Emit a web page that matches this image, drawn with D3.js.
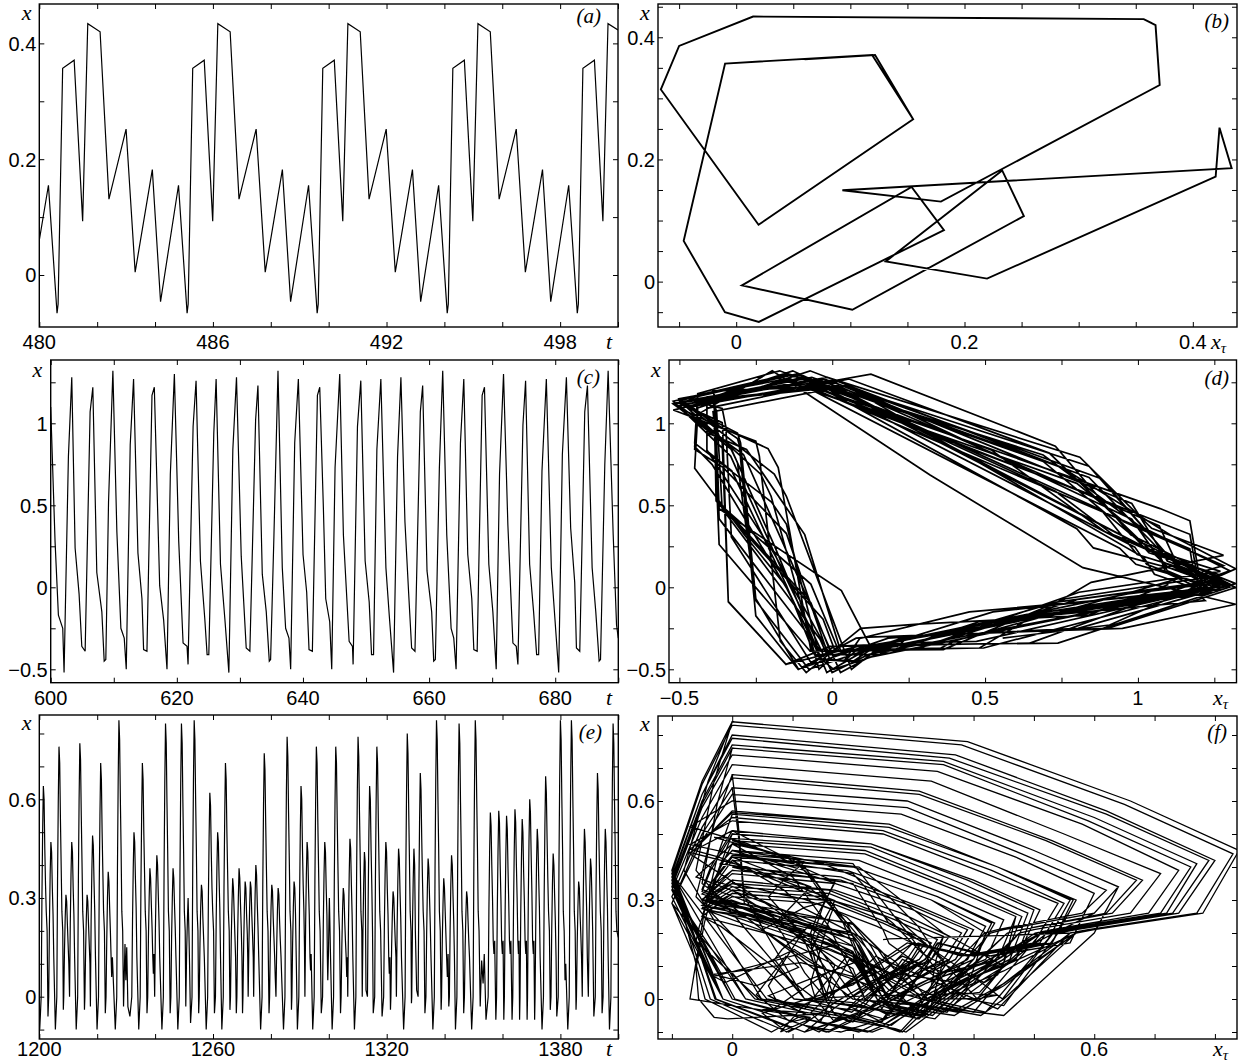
<!DOCTYPE html>
<html><head><meta charset="utf-8">
<script src="https://cdn.jsdelivr.net/npm/d3@7"></script>
<style>body{margin:0;background:#fff}svg{display:block}</style>
</head><body>
<svg id="fig" width="1245" height="1063"></svg>
<script>
// ---------- data: time series ([t, x] vertices) ----------
const aData = [[480.0,0.06],
 [480.316,0.155],[480.613,-0.066],[480.650,-0.050],[480.807,0.357],[481.205,0.371],[481.498,0.093],[481.675,0.434],[482.101,0.420],[482.407,0.131],[482.999,0.252],[483.313,0.005],[483.906,0.182],[484.190,-0.046],
 [484.811,0.155],[485.108,-0.066],[485.145,-0.050],[485.302,0.357],[485.700,0.371],[485.993,0.093],[486.170,0.434],[486.596,0.420],[486.902,0.131],[487.494,0.252],[487.808,0.005],[488.401,0.182],[488.685,-0.046],
 [489.306,0.155],[489.603,-0.066],[489.640,-0.050],[489.797,0.357],[490.195,0.371],[490.488,0.093],[490.665,0.434],[491.091,0.420],[491.397,0.131],[491.989,0.252],[492.303,0.005],[492.896,0.182],[493.180,-0.046],
 [493.801,0.155],[494.098,-0.066],[494.135,-0.050],[494.292,0.357],[494.690,0.371],[494.983,0.093],[495.160,0.434],[495.586,0.420],[495.892,0.131],[496.484,0.252],[496.798,0.005],[497.391,0.182],[497.675,-0.046],
 [498.296,0.155],[498.593,-0.066],[498.630,-0.050],[498.787,0.357],[499.185,0.371],[499.478,0.093],[499.655,0.434],[500.0,0.423]];

const cData = [[600.00,1.10],[600.69,0.28],[601.22,-0.17],[601.91,-0.25],[602.12,-0.52],[602.81,0.80],[603.34,1.28],[603.87,0.24],[604.50,-0.04],[604.93,-0.36],[605.46,-0.39],[606.25,1.07],[606.68,1.22],[607.31,0.09],[608.11,-0.15],[608.48,-0.45],[608.74,-0.44],[609.17,0.52],[609.86,1.32],[610.49,0.34],[611.13,-0.25],[611.66,-0.31],[611.98,-0.50],[612.61,0.87],[613.14,1.27],[613.83,0.21],[614.47,-0.07],[614.73,-0.38],[615.26,-0.39],[616.06,1.17],[616.43,1.22],[617.28,0.01],[617.91,-0.20],[618.44,-0.50],[618.97,0.69],[619.61,1.30],[620.30,0.28],[620.99,-0.34],[621.62,-0.36],[621.78,-0.47],[622.58,0.98],[623.05,1.26],[623.74,0.16],[624.43,-0.19],[624.80,-0.41],[625.07,-0.41],[625.86,0.94],[626.23,1.27],[626.92,0.14],[627.61,-0.19],[628.25,-0.52],[628.88,0.84],[629.46,1.28],[630.21,0.19],[631.00,-0.37],[631.58,-0.39],[632.49,1.02],[632.86,1.23],[633.55,0.08],[634.18,-0.15],[634.66,-0.45],[634.87,-0.44],[635.40,0.32],[636.04,1.32],[636.72,0.12],[637.25,-0.25],[637.78,-0.31],[638.05,-0.50],[638.69,0.88],[639.27,1.27],[640.01,0.20],[640.59,-0.03],[640.96,-0.38],[641.49,-0.39],[642.29,1.17],[642.66,1.22],[643.24,0.48],[643.61,-0.07],[644.24,-0.21],[644.56,-0.50],[645.09,0.73],[645.83,1.30],[646.41,0.32],[647.32,-0.33],[647.85,-0.36],[647.95,-0.47],[648.64,0.98],[649.17,1.26],[649.86,0.16],[650.50,-0.09],[650.87,-0.41],[651.19,-0.41],[651.72,0.84],[652.35,1.27],[653.15,0.12],[653.68,-0.17],[654.37,-0.52],[655.00,0.80],[655.53,1.28],[656.17,0.40],[656.75,-0.03],[657.23,-0.37],[657.76,-0.39],[658.61,1.07],[658.98,1.23],[659.67,0.10],[660.41,-0.15],[660.73,-0.45],[660.99,-0.44],[661.63,0.73],[662.16,1.32],[662.80,0.32],[663.49,-0.25],[663.91,-0.31],[664.28,-0.50],[664.97,0.88],[665.50,1.27],[666.13,0.20],[666.77,-0.07],[667.09,-0.38],[667.62,-0.39],[668.41,1.17],[668.78,1.22],[669.47,0.14],[670.11,-0.15],[670.64,-0.50],[671.17,0.69],[671.80,1.30],[672.49,0.38],[673.29,-0.34],[673.82,-0.36],[674.08,-0.47],[674.88,0.99],[675.30,1.26],[675.94,0.14],[676.57,-0.15],[677.05,-0.41],[677.37,-0.41],[677.90,0.71],[678.59,1.27],[679.38,0.12],[679.91,-0.17],[680.55,-0.52],[681.13,0.81],[681.77,1.28],[682.45,0.36],[683.09,0.03],[683.36,-0.37],[683.89,-0.39],[684.68,1.07],[685.11,1.23],[685.85,0.12],[686.43,-0.15],[686.96,-0.45],[687.18,-0.44],[687.86,0.75],[688.39,1.32],[689.19,0.32],[689.72,-0.23],[690.00,-0.31]];

const eData = [[1200.0,-0.06],
 [1200.15,-0.10],[1200.65,0.00],[1200.9,0.29],[1201.15,0.50],[1201.4,0.64],[1201.65,0.60],[1201.9,0.45],[1202.15,0.34],[1202.4,0.26],[1202.7,0.20],
 [1203.0,-0.06],[1203.25,0.00],[1203.5,0.22],[1203.75,0.37],[1204.0,0.47],[1204.25,0.44],[1204.5,0.33],[1204.75,0.25],[1205.0,0.12],
 [1205.55,-0.10],[1206.05,0.00],[1206.3,0.35],[1206.55,0.59],[1206.8,0.76],[1207.05,0.71],[1207.3,0.54],[1207.55,0.40],[1207.8,0.26],[1208.1,0.20],
 [1208.3,-0.04],[1208.45,0.00],[1208.7,0.14],[1208.95,0.24],[1209.2,0.31],[1209.45,0.29],[1209.7,0.22],[1209.95,0.16],[1210.2,0.10],
 [1210.45,0.00],[1210.7,0.22],[1210.95,0.37],[1211.2,0.47],[1211.45,0.44],[1211.7,0.33],[1211.95,0.25],[1212.2,0.12],
 [1212.75,-0.10],[1213.25,0.00],[1213.5,0.35],[1213.75,0.60],[1214.0,0.77],[1214.25,0.72],[1214.5,0.55],[1214.75,0.41],[1215.0,0.26],[1215.3,0.20],
 [1215.6,-0.04],[1215.75,0.00],[1216.0,0.14],[1216.25,0.24],[1216.5,0.31],[1216.75,0.29],[1217.0,0.22],[1217.25,0.16],[1217.5,0.10],
 [1217.65,-0.03],[1217.9,0.23],[1218.15,0.38],[1218.4,0.49],[1218.65,0.46],[1218.9,0.35],[1219.15,0.26],[1219.4,0.12],
 [1219.95,-0.10],[1220.45,0.00],[1220.7,0.33],[1220.95,0.55],[1221.2,0.71],[1221.45,0.66],[1221.7,0.50],[1221.95,0.38],[1222.2,0.26],[1222.5,0.20],
 [1222.8,-0.05],[1223.05,0.00],[1223.3,0.17],[1223.55,0.30],[1223.8,0.38],[1224.05,0.35],[1224.3,0.27],[1224.55,0.20],[1224.8,0.12],[1225.0,0.06],[1225.25,0.12],
 [1226.25,-0.10],[1226.75,0.00],[1227.0,0.39],[1227.25,0.66],[1227.5,0.84],[1227.75,0.78],[1228.0,0.60],[1228.25,0.45],[1228.5,0.26],[1228.8,0.20],
 [1229.1,-0.03],[1229.6,0.16],[1229.9,0.05],[1230.2,0.15],[1230.6,-0.03],
 [1231.3,-0.06],[1231.95,0.00],[1232.2,0.23],[1232.45,0.39],[1232.7,0.50],[1232.95,0.47],[1233.2,0.36],[1233.45,0.27],[1233.7,0.12],
 [1234.35,-0.10],[1234.85,0.00],[1235.1,0.33],[1235.35,0.55],[1235.6,0.71],[1235.85,0.66],[1236.1,0.50],[1236.35,0.38],[1236.6,0.26],[1236.9,0.20],
 [1237.2,-0.05],[1237.45,0.00],[1237.7,0.18],[1237.95,0.30],[1238.2,0.39],[1238.45,0.36],[1238.7,0.28],[1238.95,0.21],[1239.2,0.12],[1239.4,0.07],[1239.6,0.13],
 [1239.85,0.00],[1240.1,0.20],[1240.35,0.34],[1240.6,0.43],[1240.85,0.40],[1241.1,0.31],[1241.35,0.23],[1241.6,0.12],
 [1242.35,-0.10],[1242.85,0.00],[1243.1,0.38],[1243.35,0.65],[1243.6,0.83],[1243.85,0.77],[1244.1,0.59],[1244.35,0.44],[1244.6,0.26],[1244.9,0.20],
 [1245.2,-0.05],[1245.45,0.00],[1245.7,0.18],[1245.95,0.30],[1246.2,0.39],[1246.45,0.36],[1246.7,0.28],[1246.95,0.21],[1247.2,0.12],
 [1247.85,-0.10],[1248.35,0.00],[1248.6,0.38],[1248.85,0.65],[1249.1,0.83],[1249.35,0.77],[1249.6,0.59],[1249.85,0.44],[1250.1,0.26],[1250.4,0.20],
 [1250.6,-0.03],[1250.9,0.14],[1251.15,0.23],[1251.4,0.30],[1251.65,0.21],[1251.9,0.10],
 [1252.25,-0.08],[1252.75,0.00],[1253.0,0.39],[1253.25,0.66],[1253.5,0.84],[1253.75,0.78],[1254.0,0.60],[1254.25,0.45],[1254.5,0.26],[1254.8,0.20],
 [1255.05,-0.05],[1255.25,0.00],[1255.5,0.16],[1255.75,0.27],[1256.0,0.34],[1256.25,0.32],[1256.5,0.24],[1256.75,0.18],[1257.0,0.12],
 [1257.65,-0.10],[1258.15,0.00],[1258.4,0.29],[1258.65,0.48],[1258.9,0.62],[1259.15,0.58],[1259.4,0.44],[1259.65,0.33],[1259.9,0.26],[1260.2,0.20],
 [1260.5,-0.05],[1260.85,0.00],[1261.1,0.23],[1261.35,0.39],[1261.6,0.50],[1261.85,0.47],[1262.1,0.36],[1262.35,0.27],[1262.6,0.12],
 [1263.05,-0.10],[1263.55,0.00],[1263.8,0.33],[1264.05,0.55],[1264.3,0.71],[1264.55,0.66],[1264.8,0.50],[1265.05,0.38],[1265.3,0.26],[1265.6,0.20],
 [1265.85,-0.04],[1266.05,0.00],[1266.3,0.17],[1266.55,0.28],[1266.8,0.36],[1267.05,0.33],[1267.3,0.26],[1267.55,0.19],[1267.8,0.12],
 [1268.05,-0.05],[1268.25,0.00],[1268.5,0.18],[1268.75,0.30],[1269.0,0.39],[1269.25,0.36],[1269.5,0.28],[1269.75,0.21],[1270.0,0.12],
 [1270.2,-0.05],[1270.35,0.00],[1270.6,0.16],[1270.85,0.27],[1271.1,0.35],[1271.35,0.33],[1271.6,0.25],[1271.85,0.19],[1272.0,0.12],
 [1272.15,0.00],[1272.4,0.16],[1272.65,0.27],[1272.9,0.35],[1273.15,0.33],[1273.4,0.25],[1273.65,0.19],[1273.9,0.12],
 [1274.05,0.00],[1274.3,0.18],[1274.55,0.31],[1274.8,0.40],[1275.05,0.37],[1275.3,0.28],[1275.55,0.21],[1275.8,0.12],
 [1276.45,-0.10],[1276.95,0.00],[1277.2,0.34],[1277.45,0.58],[1277.7,0.74],[1277.95,0.69],[1278.2,0.53],[1278.45,0.39],[1278.7,0.26],[1279.0,0.20],
 [1279.35,-0.05],[1279.55,0.00],[1279.8,0.16],[1280.05,0.27],[1280.3,0.34],[1280.55,0.32],[1280.8,0.24],[1281.05,0.18],[1281.3,0.12],[1281.5,0.06],
 [1281.75,0.00],[1282.0,0.15],[1282.25,0.26],[1282.5,0.33],[1282.75,0.31],[1283.0,0.23],[1283.25,0.17],[1283.5,0.12],[1283.8,0.04],
 [1284.35,-0.10],[1284.85,0.00],[1285.1,0.36],[1285.35,0.62],[1285.6,0.79],[1285.85,0.73],[1286.1,0.56],[1286.35,0.42],[1286.6,0.26],[1286.9,0.20],
 [1287.1,-0.04],[1287.25,0.00],[1287.5,0.16],[1287.75,0.27],[1288.0,0.35],[1288.25,0.33],[1288.5,0.25],[1288.75,0.12],
 [1289.15,-0.10],[1289.65,0.00],[1289.9,0.29],[1290.15,0.50],[1290.4,0.64],[1290.65,0.60],[1290.9,0.45],[1291.15,0.34],[1291.4,0.26],[1291.6,0.15],
 [1291.75,0.00],[1292.0,0.22],[1292.25,0.37],[1292.5,0.47],[1292.75,0.44],[1293.0,0.33],[1293.25,0.25],[1293.5,0.12],[1293.7,0.08],[1293.9,0.13],
 [1294.45,-0.10],[1294.95,0.00],[1295.2,0.35],[1295.45,0.59],[1295.7,0.76],[1295.95,0.71],[1296.2,0.54],[1296.45,0.40],[1296.7,0.26],[1297.0,0.20],
 [1297.4,-0.05],[1297.85,0.00],[1298.1,0.22],[1298.35,0.37],[1298.6,0.47],[1298.85,0.44],[1299.1,0.33],[1299.35,0.25],[1299.5,0.12],
 [1299.65,0.05],[1299.9,0.14],[1300.05,0.23],[1300.2,0.30],[1300.4,0.21],[1300.6,0.12],
 [1301.15,-0.10],[1301.65,0.00],[1301.9,0.35],[1302.15,0.59],[1302.4,0.76],[1302.65,0.71],[1302.9,0.54],[1303.15,0.40],[1303.4,0.26],[1303.7,0.20],
 [1304.05,-0.05],[1304.25,0.00],[1304.5,0.15],[1304.75,0.26],[1305.0,0.33],[1305.25,0.31],[1305.5,0.23],[1305.75,0.17],[1306.0,0.12],[1306.2,0.06],[1306.4,0.12],
 [1306.55,0.00],[1306.8,0.22],[1307.05,0.37],[1307.3,0.48],[1307.55,0.45],[1307.8,0.34],[1308.05,0.25],[1308.3,0.12],
 [1308.85,-0.10],[1309.35,0.00],[1309.6,0.36],[1309.85,0.62],[1310.1,0.79],[1310.35,0.73],[1310.6,0.56],[1310.85,0.42],[1311.1,0.26],[1311.4,0.20],
 [1311.55,0.00],[1311.8,0.20],[1312.05,0.34],[1312.3,0.44],[1312.55,0.41],[1312.85,0.02],
 [1313.35,0.00],[1313.6,0.29],[1313.85,0.50],[1314.1,0.64],[1314.35,0.60],[1314.6,0.45],[1314.85,0.34],[1315.1,0.20],[1315.35,-0.05],
 [1315.85,0.00],[1316.1,0.35],[1316.35,0.59],[1316.6,0.76],[1316.85,0.71],[1317.1,0.54],[1317.35,0.40],[1317.6,0.26],[1317.9,0.20],
 [1318.4,-0.06],[1318.95,0.00],[1319.2,0.22],[1319.45,0.37],[1319.7,0.47],[1319.95,0.44],[1320.2,0.33],[1320.45,0.25],[1320.7,0.12],[1320.9,0.07],[1321.1,0.12],
 [1321.3,-0.04],[1321.45,0.00],[1321.7,0.15],[1321.95,0.25],[1322.2,0.32],[1322.45,0.30],[1322.7,0.23],[1322.95,0.17],[1323.2,0.12],
 [1323.35,0.00],[1323.6,0.21],[1323.85,0.35],[1324.1,0.45],[1324.35,0.42],[1324.6,0.32],[1324.85,0.24],[1325.1,0.12],
 [1325.85,-0.10],[1326.35,0.00],[1326.6,0.37],[1326.85,0.62],[1327.1,0.80],[1327.35,0.74],[1327.6,0.57],[1327.85,0.42],[1328.1,0.26],[1328.4,0.20],
 [1328.55,-0.02],[1328.65,0.00],[1328.9,0.21],[1329.15,0.35],[1329.4,0.45],[1329.65,0.40],[1329.9,0.20],[1330.35,0.02],
 [1330.85,0.00],[1331.1,0.31],[1331.35,0.53],[1331.6,0.68],[1331.85,0.63],[1332.1,0.48],[1332.35,0.36],[1332.6,0.26],[1332.9,0.20],
 [1333.2,-0.05],[1333.55,0.00],[1333.8,0.19],[1334.05,0.33],[1334.3,0.42],[1334.55,0.39],[1334.8,0.30],[1335.05,0.22],[1335.3,0.12],
 [1335.95,-0.10],[1336.45,0.00],[1336.7,0.39],[1336.95,0.66],[1337.2,0.84],[1337.45,0.78],[1337.7,0.60],[1337.95,0.45],[1338.2,0.26],[1338.5,0.20],
 [1338.8,-0.04],[1338.95,0.00],[1339.2,0.17],[1339.45,0.28],[1339.7,0.36],[1339.95,0.33],[1340.2,0.26],[1340.45,0.19],[1340.7,0.12],[1340.95,0.06],[1341.2,0.13],[1341.45,-0.03],
 [1341.65,0.00],[1341.9,0.20],[1342.15,0.34],[1342.4,0.43],[1342.65,0.40],[1342.9,0.31],[1343.15,0.23],[1343.4,0.12],
 [1343.75,-0.10],[1344.25,0.00],[1344.5,0.38],[1344.75,0.65],[1345.0,0.83],[1345.25,0.77],[1345.5,0.59],[1345.75,0.44],[1346.0,0.26],[1346.3,0.20],
 [1346.6,-0.05],[1346.85,0.00],[1347.1,0.15],[1347.35,0.25],[1347.6,0.32],[1347.85,0.30],[1348.1,0.23],[1348.35,0.17],[1348.6,0.12],
 [1349.35,-0.10],[1349.85,0.00],[1350.1,0.39],[1350.35,0.66],[1350.6,0.84],[1350.85,0.78],[1351.1,0.60],[1351.35,0.45],[1351.6,0.26],[1351.9,0.20],
 [1352.3,-0.03],[1352.8,0.11],[1353.3,0.04],[1353.7,0.13],[1354.3,-0.07],
 [1355.05,0.00],[1355.3,0.26],[1355.55,0.44],[1355.8,0.56],[1356.05,0.52],[1356.3,0.40],[1356.55,0.30],[1356.8,0.17],[1357.05,0.13],[1357.3,0.17],[1357.7,-0.07],
 [1357.95,0.00],[1358.2,0.26],[1358.45,0.44],[1358.7,0.565],[1358.95,0.53],[1359.2,0.40],[1359.45,0.30],[1359.7,0.17],[1359.95,0.13],[1360.2,0.17],[1360.45,-0.07],
 [1360.65,0.00],[1360.9,0.25],[1361.15,0.43],[1361.4,0.55],[1361.65,0.51],[1361.9,0.39],[1362.15,0.29],[1362.4,0.17],[1362.65,0.13],[1362.9,0.17],[1363.3,-0.07],
 [1363.55,0.00],[1363.8,0.26],[1364.05,0.44],[1364.3,0.57],[1364.55,0.53],[1364.8,0.40],[1365.05,0.30],[1365.3,0.17],[1365.5,0.13],[1365.7,0.17],[1365.9,-0.07],
 [1366.05,0.00],[1366.3,0.25],[1366.55,0.42],[1366.8,0.54],[1367.05,0.50],[1367.3,0.38],[1367.55,0.29],[1367.8,0.17],[1368.05,0.13],[1368.25,0.17],[1368.5,-0.07],
 [1368.65,0.00],[1368.9,0.28],[1369.15,0.47],[1369.4,0.60],[1369.65,0.56],[1369.9,0.43],[1370.15,0.32],[1370.4,0.17],[1370.65,0.13],[1370.85,0.17],[1371.1,-0.07],
 [1371.25,0.00],[1371.5,0.23],[1371.75,0.40],[1372.0,0.51],[1372.25,0.47],[1372.5,0.36],[1372.75,0.27],[1373.0,0.12],
 [1373.65,-0.10],[1374.15,0.00],[1374.4,0.31],[1374.65,0.52],[1374.9,0.67],[1375.15,0.62],[1375.4,0.48],[1375.65,0.36],[1375.9,0.26],[1376.2,0.20],
 [1376.5,-0.04],[1376.75,0.00],[1377.0,0.20],[1377.25,0.34],[1377.5,0.435],[1377.75,0.40],[1378.0,0.31],[1378.25,0.23],[1378.5,0.12],[1378.75,-0.06],
 [1379.25,0.00],[1379.5,0.39],[1379.75,0.66],[1380.0,0.84],[1380.25,0.78],[1380.5,0.60],[1380.75,0.45],[1381.0,0.26],[1381.3,0.20],[1381.6,0.05],[1381.85,0.10],[1382.55,-0.10],
 [1383.05,0.00],[1383.3,0.39],[1383.55,0.66],[1383.8,0.84],[1384.05,0.78],[1384.3,0.60],[1384.55,0.45],[1384.8,0.26],[1385.1,0.20],
 [1385.4,-0.04],[1385.55,0.00],[1385.8,0.16],[1386.05,0.27],[1386.3,0.35],[1386.55,0.33],[1386.8,0.25],[1387.05,0.19],[1387.3,0.12],
 [1387.55,0.00],[1387.8,0.23],[1388.05,0.40],[1388.3,0.51],[1388.55,0.47],[1388.8,0.36],[1389.05,0.27],[1389.3,0.12],
 [1389.65,0.00],[1389.9,0.19],[1390.15,0.33],[1390.4,0.42],[1390.65,0.39],[1390.9,0.30],[1391.15,0.20],[1391.55,-0.06],
 [1392.05,0.00],[1392.3,0.31],[1392.55,0.53],[1392.8,0.68],[1393.05,0.63],[1393.3,0.48],[1393.55,0.36],[1393.8,0.26],[1394.1,0.20],
 [1394.4,-0.05],[1394.75,0.00],[1395.0,0.23],[1395.25,0.40],[1395.5,0.51],[1395.75,0.47],[1396.0,0.36],[1396.25,0.27],[1396.5,0.12],
 [1396.95,-0.10],[1397.45,0.00],[1397.7,0.38],[1397.95,0.65],[1398.2,0.83],[1398.45,0.77],[1398.7,0.59],[1398.95,0.44],[1399.2,0.26],[1399.5,0.20],[1400.0,0.18]];

// delays used for the phase portraits x(t) vs x(t - tau)
const tauB = 1.0, tauD = 1.0, tauF = 0.75;

// ---------- ticks and tick labels ----------
const aXTicks = [480,482,484,486,488,490,492,494,496,498,500], aXLabels = [480,486,492,498];
const aYTicks = [0,0.1,0.2,0.3,0.4], aYLabels = [0,0.2,0.4];
const bXTicks = [-0.05,0,0.05,0.1,0.15,0.2,0.25,0.3,0.35,0.4], bXLabels = [0,0.2,0.4];
const bYTicks = [-0.05,0,0.05,0.1,0.15,0.2,0.25,0.3,0.35,0.4,0.45], bYLabels = [0,0.2,0.4];
const cXTicks = [600,610,620,630,640,650,660,670,680,690], cXLabels = [600,620,640,660,680];
const cYTicks = [-0.5,-0.25,0,0.25,0.5,0.75,1,1.25], cYLabels = [-0.5,0,0.5,1];
const dXTicks = [-0.5,-0.25,0,0.25,0.5,0.75,1,1.25], dXLabels = [-0.5,0,0.5,1];
const eXTicks = [1200,1220,1240,1260,1280,1300,1320,1340,1360,1380,1400], eXLabels = [1200,1260,1320,1380];
const eYTicks = [-0.1,0,0.1,0.2,0.3,0.4,0.5,0.6,0.7,0.8], eYLabels = [0,0.3,0.6];
const fXTicks = [-0.1,0,0.1,0.2,0.3,0.4,0.5,0.6,0.7,0.8], fXLabels = [0,0.3,0.6];

// ---------- delay embedding of a piecewise-linear series ----------
function embed(data, d) {
  const T = data.map(p => p[0]);
  const val = t => {
    let i = d3.bisectRight(T, t);
    if (i <= 0) return data[0][1];
    if (i >= T.length) return data[T.length - 1][1];
    const [t0, x0] = data[i - 1], [t1, x1] = data[i];
    return x0 + (x1 - x0) * (t - t0) / (t1 - t0);
  };
  const lo = T[0] + d, hi = T[T.length - 1];
  const times = Array.from(new Set(T.concat(T.map(t => t + d)).map(t => Math.round(t * 1e6) / 1e6)))
    .filter(t => t >= lo && t <= hi).sort((a, b) => a - b);
  return times.map(t => [val(t - d), val(t)]);
}

const svg = d3.select('#fig');
const defs = svg.append('defs');
const fmt = v => (v < 0 ? '\u2212' : '') + String(Math.abs(v));
const SANS = 'Liberation Sans, Arial, Helvetica, sans-serif';
const SERIF = 'Liberation Serif, Times New Roman, serif';

function panel(p) {
  const x = d3.scaleLinear().domain(p.xdom).range([p.L, p.R]);
  const y = d3.scaleLinear().domain(p.ydom).range([p.B, p.T]);
  const g = svg.append('g');
  defs.append('clipPath').attr('id', 'clip' + p.id).append('rect')
    .attr('x', p.L).attr('y', p.T).attr('width', p.R - p.L).attr('height', p.B - p.T);

  const line = d3.line().x(d => x(d[0])).y(d => y(d[1]));
  g.append('path').attr('clip-path', `url(#clip${p.id})`).attr('d', line(p.data))
    .attr('fill', 'none').attr('stroke', '#000').attr('stroke-width', p.sw)
    .attr('stroke-linejoin', 'miter').attr('stroke-miterlimit', 3);

  const axes = [
    [d3.axisBottom(x).tickValues(p.xticks), `translate(0,${p.B})`],
    [d3.axisTop(x).tickValues(p.xticks), `translate(0,${p.T})`],
    [d3.axisLeft(y).tickValues(p.yticks), `translate(${p.L},0)`],
    [d3.axisRight(y).tickValues(p.yticks), `translate(${p.R},0)`]
  ];
  axes.forEach(([ax, tr]) => {
    const a = g.append('g').attr('transform', tr).call(ax.tickSize(-5).tickFormat(''));
    a.select('.domain').remove();
    a.selectAll('line').attr('stroke', '#000').attr('stroke-width', 1);
  });
  g.append('rect').attr('x', p.L).attr('y', p.T).attr('width', p.R - p.L).attr('height', p.B - p.T)
    .attr('fill', 'none').attr('stroke', '#000').attr('stroke-width', 1.4);

  g.selectAll('.xl').data(p.xlabels).enter().append('text')
    .attr('x', d => x(d)).attr('y', p.labBase).attr('text-anchor', 'middle')
    .attr('font-family', SANS).attr('font-size', 20).text(fmt);
  g.selectAll('.yl').data(p.ylabels).enter().append('text')
    .attr('x', p.L - 3).attr('y', d => y(d)).attr('dy', '0.37em').attr('text-anchor', 'end')
    .attr('font-family', SANS).attr('font-size', 20).text(fmt);

  g.append('text').attr('x', p.yname[0]).attr('y', p.yname[1]).attr('text-anchor', 'middle')
    .attr('font-family', SERIF).attr('font-style', 'italic').attr('font-size', 22).text('x');
  if (p.xname === 't') {
    g.append('text').attr('x', p.xnameX).attr('y', p.labBase).attr('text-anchor', 'middle')
      .attr('font-family', SERIF).attr('font-style', 'italic').attr('font-size', 22).text('t');
  } else {
    const t = g.append('text').attr('x', p.xnameX).attr('y', p.labBase)
      .attr('font-family', SERIF).attr('font-style', 'italic').attr('font-size', 22);
    t.append('tspan').text('x');
    t.append('tspan').attr('dy', 4).attr('font-size', 15).text('\u03c4');
  }
  g.append('text').attr('x', p.tag[0]).attr('y', p.tag[1]).attr('text-anchor', 'end')
    .attr('font-family', SERIF).attr('font-style', 'italic').attr('font-size', 21).text(p.tagText);
}

panel({id:'a', L:39.3, R:618, T:4, B:327, xdom:[480,500], ydom:[-0.0898,0.468], data:aData, sw:1.2,
  xticks:aXTicks, xlabels:aXLabels, yticks:aYTicks, ylabels:aYLabels, labBase:349,
  yname:[26.7,20], xname:'t', xnameX:609, tag:[601,23], tagText:'(a)'});
panel({id:'b', L:658, R:1237, T:4, B:327, xdom:[-0.0685,0.4387], ydom:[-0.0743,0.4545], data:embed(aData, tauB), sw:1.9,
  xticks:bXTicks, xlabels:bXLabels, yticks:bYTicks, ylabels:bYLabels, labBase:349,
  yname:[645,20], xname:'xt', xnameX:1211, tag:[1229,28], tagText:'(b)'});
panel({id:'c', L:50.7, R:618.3, T:360, B:682.7, xdom:[600,690], ydom:[-0.5817,1.386], data:cData, sw:1.2,
  xticks:cXTicks, xlabels:cXLabels, yticks:cYTicks, ylabels:cYLabels, labBase:705,
  yname:[37.5,377], xname:'t', xnameX:609, tag:[600,384], tagText:'(c)'});
panel({id:'d', L:669, R:1236.5, T:360, B:682.7, xdom:[-0.534,1.3225], ydom:[-0.5817,1.386], data:embed(cData, tauD), sw:1.7,
  xticks:dXTicks, xlabels:dXLabels, yticks:cYTicks, ylabels:cYLabels, labBase:705,
  yname:[656,377], xname:'xt', xnameX:1213, tag:[1229,385], tagText:'(d)'});
panel({id:'e', L:39.3, R:618.3, T:715, B:1039, xdom:[1200,1400], ydom:[-0.1286,0.8562], data:eData, sw:1.2,
  xticks:eXTicks, xlabels:eXLabels, yticks:eYTicks, ylabels:eYLabels, labBase:1056,
  yname:[26.7,730], xname:'t', xnameX:609, tag:[602,739], tagText:'(e)'});
panel({id:'f', L:658, R:1237, T:716, B:1039, xdom:[-0.123,0.8366], ydom:[-0.1212,0.8576], data:embed(eData, tauF), sw:1.3,
  xticks:fXTicks, xlabels:fXLabels, yticks:eYTicks, ylabels:eYLabels, labBase:1056,
  yname:[645,731], xname:'xt', xnameX:1213, tag:[1227,739], tagText:'(f)'});
</script>
</body></html>
